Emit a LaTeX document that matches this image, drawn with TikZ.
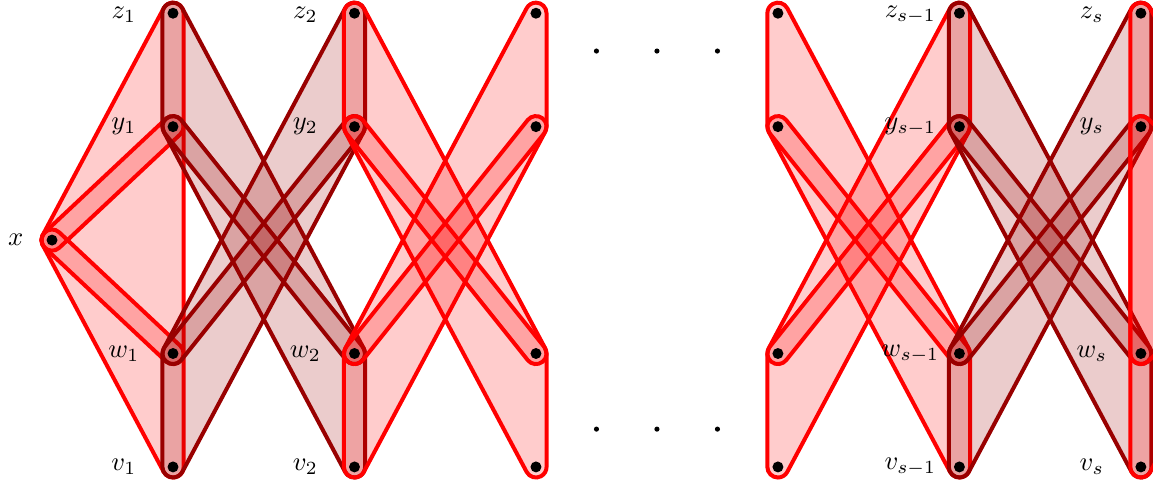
\documentclass[tikz,border=0pt]{standalone}
\usetikzlibrary{calc}
\definecolor{hdark}{RGB}{153,0,0}
\newcommand{\hullr}{0.14cm}
% down parallelogram {zL,yL,wR,vR}
\newcommand{\PD}[5]{\path[#5] ($(#1)+(180:\hullr)$) -- ($(#2)+(180:\hullr)$)
  arc[start angle=180,end angle=208.07,radius=\hullr] -- ($(#4)+(208.07:\hullr)$)
  arc[start angle=208.07,end angle=360,radius=\hullr] -- ($(#3)+(0:\hullr)$)
  arc[start angle=0,end angle=28.07,radius=\hullr] -- ($(#1)+(28.07:\hullr)$)
  arc[start angle=28.07,end angle=180,radius=\hullr] -- cycle;}
% up parallelogram {wL,vL,zR,yR}
\newcommand{\PU}[5]{\path[#5] ($(#1)+(180:\hullr)$) -- ($(#2)+(180:\hullr)$)
  arc[start angle=180,end angle=331.93,radius=\hullr] -- ($(#4)+(331.93:\hullr)$)
  arc[start angle=331.93,end angle=360,radius=\hullr] -- ($(#3)+(0:\hullr)$)
  arc[start angle=0,end angle=151.93,radius=\hullr] -- ($(#1)+(151.93:\hullr)$)
  arc[start angle=151.93,end angle=180,radius=\hullr] -- cycle;}
% band {A,B}, #3 = angle of the outer normal of A->B
\newcommand{\Band}[4]{\path[#4] ($(#1)+(#3:\hullr)$) -- ($(#2)+(#3:\hullr)$)
  arc[start angle=#3,delta angle=180,radius=\hullr] -- ($(#1)+({#3+180}:\hullr)$)
  arc[start angle={#3+180},delta angle=180,radius=\hullr] -- cycle;}
\tikzset{
  redhull/.style={draw=red,fill=red,fill opacity=0.2,line width=1.5pt},
  darkhull/.style={draw=hdark,fill=hdark,fill opacity=0.2,line width=1.5pt},
  vtx/.style={circle,fill=black,inner sep=0pt,minimum size=0.145cm},
  ell/.style={circle,fill=black,inner sep=0pt,minimum size=0.068cm},
  lab/.style={inner sep=0pt,font=\normalsize}
}
\begin{document}
\begin{tikzpicture}
\useasboundingbox (-0.688,-3.254) rectangle (14.56,3.175);
\clip (-0.688,-3.254) rectangle (14.56,3.175);
% vertex positions
\coordinate (x) at (0,0);
\coordinate (xp) at (16,0);
\foreach \n/\c in {1/1.6,2/4.0,3/6.4,A/9.6,B/12.0,C/14.4}{
  \coordinate (z\n) at (\c,3);
  \coordinate (y\n) at (\c,1.5);
  \coordinate (w\n) at (\c,-1.5);
  \coordinate (v\n) at (\c,-3);
}
% x and column 1 (red)
\path[redhull] ($(x)+(208.07:\hullr)$) -- ($(v1)+(208.07:\hullr)$)
  arc[start angle=208.07,end angle=360,radius=\hullr] -- ($(z1)+(0:\hullr)$)
  arc[start angle=0,end angle=151.93,radius=\hullr] -- ($(x)+(151.93:\hullr)$)
  arc[start angle=151.93,end angle=208.07,radius=\hullr] -- cycle;
\Band{x}{y1}{-46.85}{redhull}
\Band{x}{w1}{226.85}{redhull}
% columns 1-2 (dark)
\PD{z1}{y1}{w2}{v2}{darkhull}
\PU{w1}{v1}{z2}{y2}{darkhull}
\Band{y1}{w2}{218.66}{darkhull}
\Band{w1}{y2}{-38.66}{darkhull}
% columns 2-3 (red)
\PD{z2}{y2}{w3}{v3}{redhull}
\PU{w2}{v2}{z3}{y3}{redhull}
\Band{y2}{w3}{218.66}{redhull}
\Band{w2}{y3}{-38.66}{redhull}
% columns s-2 to s-1 (red)
\PD{zA}{yA}{wB}{vB}{redhull}
\PU{wA}{vA}{zB}{yB}{redhull}
\Band{yA}{wB}{218.66}{redhull}
\Band{wA}{yB}{-38.66}{redhull}
% columns s-1 to s (dark)
\PD{zB}{yB}{wC}{vC}{darkhull}
\PU{wB}{vB}{zC}{yC}{darkhull}
\Band{yB}{wC}{218.66}{darkhull}
\Band{wB}{yC}{-38.66}{darkhull}
% right end (red)
\path[redhull] ($(zC)+(180:\hullr)$) -- ($(vC)+(180:\hullr)$)
  arc[start angle=180,end angle=331.93,radius=\hullr] -- ($(xp)+(331.93:\hullr)$)
  arc[start angle=331.93,end angle=388.07,radius=\hullr] -- ($(zC)+(28.07:\hullr)$)
  arc[start angle=28.07,end angle=180,radius=\hullr] -- cycle;
\path[redhull] ($(yC)+(180:\hullr)$) -- ($(wC)+(180:\hullr)$)
  arc[start angle=180,end angle=313.15,radius=\hullr] -- ($(xp)+(313.15:\hullr)$)
  arc[start angle=313.15,end angle=406.85,radius=\hullr] -- ($(yC)+(46.85:\hullr)$)
  arc[start angle=46.85,end angle=180,radius=\hullr] -- cycle;
% vertices
\node[vtx] (dx) at (x) {};
\foreach \n in {1,2,3,A,B,C}{
  \node[vtx] (dz\n) at (z\n) {};
  \node[vtx] (dy\n) at (y\n) {};
  \node[vtx] (dw\n) at (w\n) {};
  \node[vtx] (dv\n) at (v\n) {};
}
% ellipsis dots
\foreach \i/\px in {1/7.2,2/8.0,3/8.8}{
  \node[ell] (et\i) at (\px,2.5) {};
  \node[ell] (eb\i) at (\px,-2.5) {};
}
% labels
\node[lab] (lx) at ($(x)+(-0.48,0)$) {$x$};
\foreach \n/\s in {1/1,2/2,B/{s-1},C/s}{
  \node[lab] (lz\n) at ($(z\n)+(-0.65,-0.02)$) {$z_{\s}$};
  \node[lab] (ly\n) at ($(y\n)+(-0.65,0)$) {$y_{\s}$};
  \node[lab] (lw\n) at ($(w\n)+(-0.65,0)$) {$w_{\s}$};
  \node[lab] (lv\n) at ($(v\n)+(-0.65,0)$) {$v_{\s}$};
}
\end{tikzpicture}
\end{document}
